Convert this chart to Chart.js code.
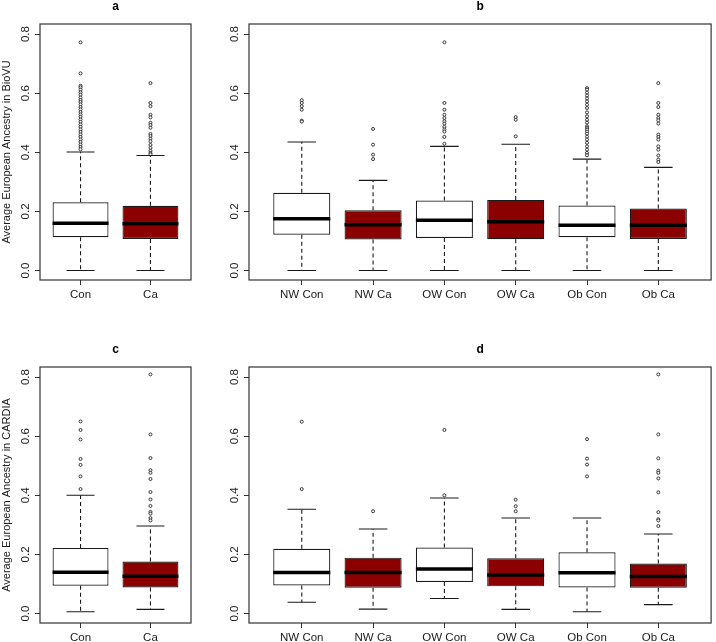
<!DOCTYPE html>
<html>
<head>
<meta charset="utf-8">
<script src="https://cdn.jsdelivr.net/npm/chart.js@4"></script>
<style>
  html, body { margin: 0; padding: 0; background: #fff; }
  #wrap { position: relative; width: 716px; height: 642px; }
  canvas { position: absolute; }
</style>
</head>
<body>
<div id="wrap">
  <canvas id="pa" width="200" height="320" style="left:0;top:0"></canvas>
  <canvas id="pb" width="516" height="320" style="left:200px;top:0"></canvas>
  <canvas id="pc" width="200" height="322" style="left:0;top:320px"></canvas>
  <canvas id="pd" width="516" height="322" style="left:200px;top:320px"></canvas>
</div>
<script>
// panel a : BioVU, Con vs Ca
const catsA = ["Con", "Ca"];
const lowA = [0.0, 0.0];
const q1A = [0.113, 0.107];
const medA = [0.160, 0.158];
const q3A = [0.231, 0.219];
const highA = [0.401, 0.389];
const outA = [
  [0.772, 0.667, 0.625, 0.62, 0.612, 0.603, 0.595, 0.585, 0.577, 0.57, 0.562, 0.553, 0.545, 0.536,
   0.528, 0.52, 0.511, 0.503, 0.494, 0.486, 0.477, 0.469, 0.46, 0.452, 0.443, 0.435, 0.426, 0.418, 0.41],
  [0.634, 0.567, 0.556, 0.527, 0.518, 0.5, 0.492, 0.483, 0.462, 0.455, 0.446, 0.437, 0.425, 0.415,
   0.405, 0.397, 0.393]
];

// panel b : BioVU by BMI group
const catsB = ["NW Con", "NW Ca", "OW Con", "OW Ca", "Ob Con", "Ob Ca"];
const lowB = [0.0, 0.0, 0.0, 0.0, 0.0, 0.0];
const q1B = [0.121, 0.105, 0.110, 0.106, 0.113, 0.107];
const medB = [0.175, 0.155, 0.170, 0.165, 0.153, 0.153];
const q3B = [0.263, 0.204, 0.237, 0.239, 0.220, 0.210];
const highB = [0.435, 0.305, 0.420, 0.427, 0.377, 0.349];
const outB = [
  [0.576, 0.567, 0.556, 0.544, 0.507, 0.504],
  [0.479, 0.426, 0.392, 0.377],
  [0.772, 0.567, 0.544, 0.527, 0.516, 0.505, 0.497, 0.486, 0.477, 0.47, 0.452, 0.429],
  [0.519, 0.51, 0.454],
  [0.617, 0.612, 0.602, 0.592, 0.582, 0.572, 0.561, 0.55, 0.535, 0.522, 0.51, 0.5, 0.488, 0.482,
   0.477, 0.47, 0.463, 0.453, 0.443, 0.432, 0.42, 0.409, 0.398, 0.39],
  [0.634, 0.567, 0.553, 0.527, 0.516, 0.508, 0.497, 0.46, 0.452, 0.443, 0.42, 0.409, 0.389, 0.375, 0.367]
];

// panel c : CARDIA, Con vs Ca
const catsC = ["Con", "Ca"];
const lowC = [0.006, 0.014];
const q1C = [0.094, 0.088];
const medC = [0.140, 0.126];
const q3C = [0.222, 0.176];
const highC = [0.400, 0.296];
const outC = [
  [0.65, 0.621, 0.589, 0.523, 0.503, 0.464, 0.421],
  [0.809, 0.606, 0.526, 0.485, 0.476, 0.455, 0.411, 0.386, 0.364, 0.344, 0.338, 0.323, 0.315]
];

// panel d : CARDIA by BMI group
const catsD = ["NW Con", "NW Ca", "OW Con", "OW Ca", "Ob Con", "Ob Ca"];
const lowD = [0.038, 0.015, 0.051, 0.014, 0.006, 0.030];
const q1D = [0.095, 0.087, 0.107, 0.092, 0.088, 0.087];
const medD = [0.139, 0.139, 0.151, 0.130, 0.138, 0.125];
const q3D = [0.219, 0.189, 0.223, 0.187, 0.207, 0.169];
const highD = [0.353, 0.286, 0.391, 0.323, 0.323, 0.269];
const outD = [
  [0.649, 0.421],
  [0.346],
  [0.621, 0.4],
  [0.385, 0.363, 0.346],
  [0.59, 0.524, 0.504, 0.464],
  [0.809, 0.606, 0.525, 0.483, 0.476, 0.457, 0.41, 0.343, 0.319, 0.315, 0.296]
];

const yTicks = [0, 0.2, 0.4, 0.6, 0.8];
const fills = ["#ffffff", "#8b0000"]; // Con / Ca

Chart.defaults.font.family = "'Liberation Sans', Arial, sans-serif";
Chart.defaults.font.size = 11.5;
Chart.defaults.color = "#1a1a1a";

// whiskers, caps, medians, frame and the panel letter
function boxParts(letter, low, med, high, q1, q3) {
  return {
    id: "boxParts",
    afterDatasetsDraw(chart) {
      const { ctx, chartArea: a } = chart;
      const x = chart.scales.x, y = chart.scales.y;
      const bars = chart.getDatasetMeta(0).data;
      ctx.save();
      low.forEach((lo, i) => {
        const px = x.getPixelForValue(i + 1);
        const half = bars[i].width / 2;
        ctx.strokeStyle = "#1a1a1a";
        ctx.lineWidth = 1.1;
        ctx.setLineDash([4, 3]);
        ctx.beginPath();
        ctx.moveTo(px, y.getPixelForValue(q3[i]));
        ctx.lineTo(px, y.getPixelForValue(high[i]));
        ctx.moveTo(px, y.getPixelForValue(q1[i]));
        ctx.lineTo(px, y.getPixelForValue(lo));
        ctx.stroke();
        ctx.setLineDash([]);
        ctx.beginPath();
        ctx.moveTo(px - half / 2, y.getPixelForValue(high[i]));
        ctx.lineTo(px + half / 2, y.getPixelForValue(high[i]));
        ctx.moveTo(px - half / 2, y.getPixelForValue(lo));
        ctx.lineTo(px + half / 2, y.getPixelForValue(lo));
        ctx.stroke();
        ctx.strokeStyle = "#000";
        ctx.lineWidth = 3.5;
        ctx.beginPath();
        ctx.moveTo(px - half, y.getPixelForValue(med[i]));
        ctx.lineTo(px + half, y.getPixelForValue(med[i]));
        ctx.stroke();
      });
      ctx.lineWidth = 1.2;
      ctx.strokeStyle = "#333";
      ctx.strokeRect(a.left, a.top, a.right - a.left, a.bottom - a.top);
      ctx.fillStyle = "#000";
      ctx.font = "bold 12px 'Liberation Sans', Arial, sans-serif";
      ctx.textAlign = "center";
      ctx.textBaseline = "middle";
      ctx.fillText(letter, (a.left + a.right) / 2, a.top - 17);
      ctx.restore();
    }
  };
}

function makePanel(id, letter, yTitle, cats, low, q1, med, q3, high, out, geo) {
  const n = cats.length;
  const ctx = document.getElementById(id).getContext("2d");
  new Chart(ctx, {
    type: "bar",
    data: {
      datasets: [
        {
          type: "bar",
          data: cats.map((c, i) => ({ x: i + 1, y: [q1[i], q3[i]] })),
          backgroundColor: cats.map((c, i) => fills[i % 2]),
          borderColor: "#1a1a1a",
          borderWidth: 1.2,
          borderSkipped: false,
          categoryPercentage: 1,
          barPercentage: 0.8,
          order: 2
        },
        {
          type: "scatter",
          data: out.flatMap((arr, i) => arr.map(v => ({ x: i + 1, y: v }))),
          pointRadius: 1.5,
          pointBorderWidth: 0.9,
          pointBorderColor: "#222",
          pointBackgroundColor: "#fff",
          order: 1
        }
      ]
    },
    options: {
      responsive: false,
      animation: false,
      devicePixelRatio: 1,
      layout: { padding: { left: 0, top: geo.padTop, right: geo.padRight, bottom: 0 } },
      plugins: { legend: { display: false }, tooltip: { enabled: false } },
      scales: {
        x: {
          type: "linear",
          min: 0.5 - 0.04 * n,
          max: n + 0.5 + 0.04 * n,
          offset: false,
          afterBuildTicks: s => { s.ticks = cats.map((c, i) => ({ value: i + 1 })); },
          afterFit: s => { s.height = geo.xAxisH; },
          ticks: { callback: v => cats[v - 1], padding: 3, maxRotation: 0, autoSkip: false },
          grid: { drawOnChartArea: false, offset: false, tickLength: 5, color: "#333" },
          border: { display: false }
        },
        y: {
          type: "linear",
          min: -0.032,
          max: 0.834,
          afterBuildTicks: s => { s.ticks = yTicks.map(v => ({ value: v })); },
          afterFit: s => { s.width = geo.axisW; },
          ticks: {
            minRotation: 90, maxRotation: 90, crossAlign: "center", padding: 1,
            callback: v => v.toFixed(1)
          },
          grid: { drawOnChartArea: false, tickLength: 5, color: "#333" },
          border: { display: false },
          title: { display: !!yTitle, text: yTitle, padding: { top: 0, bottom: 0 }, font: { size: 11 } }
        }
      }
    },
    plugins: [boxParts(letter, low, med, high, q1, q3)]
  });
}

makePanel("pa", "a", "Average European Ancestry in BioVU", catsA, lowA, q1A, medA, q3A, highA, outA,
  { axisW: 40, padTop: 24, padRight: 9, xAxisH: 40 });
makePanel("pb", "b", "", catsB, lowB, q1B, medB, q3B, highB, outB,
  { axisW: 49, padTop: 24, padRight: 3, xAxisH: 40 });
makePanel("pc", "c", "Average European Ancestry in CARDIA", catsC, lowC, q1C, medC, q3C, highC, outC,
  { axisW: 40, padTop: 47, padRight: 9, xAxisH: 19 });
makePanel("pd", "d", "", catsD, lowD, q1D, medD, q3D, highD, outD,
  { axisW: 49, padTop: 47, padRight: 3, xAxisH: 19 });
</script>
</body>
</html>
